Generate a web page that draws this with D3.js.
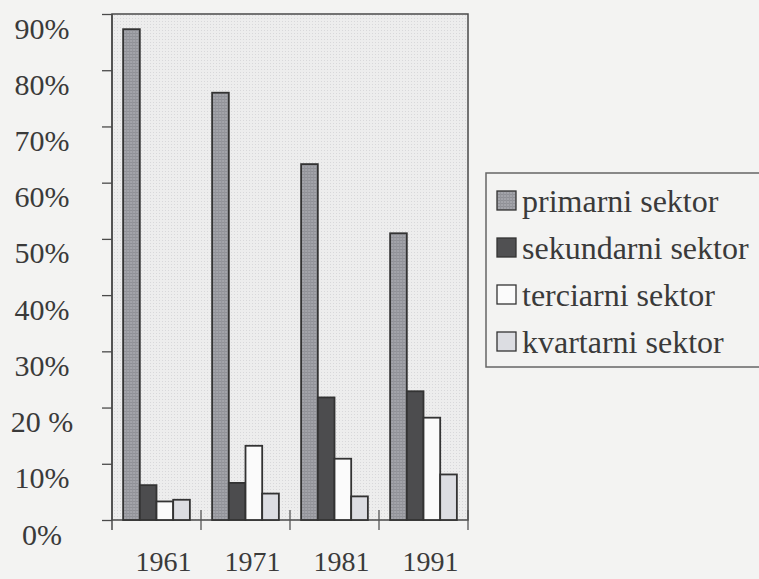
<!DOCTYPE html>
<html>
<head>
<meta charset="utf-8">
<script src="https://cdn.jsdelivr.net/npm/d3@7"></script>
<style>
  body { margin: 0; background: #f3f3f2; }
  svg { display: block; }
  text { font-family: "Liberation Serif", serif; fill: #3a3a3a; }
</style>
</head>
<body>
<div id="chart"></div>
<script>
// values (percent of workforce)
var years = ["1961", "1971", "1981", "1991"];
var sectors = ["primarni sektor", "sekundarni sektor", "terciarni sektor", "kvartarni sektor"];
var primarni   = [87.3, 76.0, 63.3, 51.0];
var sekundarni = [6.2, 6.6, 21.8, 22.9];
var terciarni  = [3.3, 13.2, 10.9, 18.2];
var kvartarni  = [3.6, 4.7, 4.2, 8.1];
var yTicks = [0, 10, 20, 30, 40, 50, 60, 70, 80, 90];
var yTickLabels = ["0%", "10%", "20 %", "30%", "40%", "50%", "60%", "70%", "80%", "90%"];

var series = [primarni, sekundarni, terciarni, kvartarni];
var fills = ["url(#patPrim)", "#4c4c4e", "#fbfbfb", "#dcdde2"];
var legendFills = ["url(#patPrim)", "#505052", "#fbfbfb", "#dcdde2"];

var W = 759, H = 579;
var svg = d3.select("#chart").append("svg").attr("width", W).attr("height", H);

// textures for the scanned look
var defs = svg.append("defs");
var pb = defs.append("pattern").attr("id", "patBg").attr("width", 3).attr("height", 3)
  .attr("patternUnits", "userSpaceOnUse");
pb.append("rect").attr("width", 3).attr("height", 3).attr("fill", "#ededed");
pb.append("rect").attr("width", 1).attr("height", 1).attr("fill", "#d8d8da");
var pp = defs.append("pattern").attr("id", "patPrim").attr("width", 3).attr("height", 3)
  .attr("patternUnits", "userSpaceOnUse");
pp.append("rect").attr("width", 3).attr("height", 3).attr("fill", "#a3a4aa");
pp.append("rect").attr("width", 3).attr("height", 1).attr("fill", "#8f9096");
pp.append("rect").attr("width", 1).attr("height", 3).attr("fill", "#94959b");

var pLeft = 112, pRight = 468, pTop = 14, pBase = 520;

var x = d3.scaleBand().domain(years).range([pLeft, pRight])
  .paddingInner(0.25).paddingOuter(0.125);
var xs = d3.scaleBand().domain(d3.range(sectors.length)).range([0, x.bandwidth()]);
var y = d3.scaleLinear().domain([0, 90]).range([pBase, pTop]);

// plot area
svg.append("rect")
  .attr("x", pLeft).attr("y", pTop)
  .attr("width", pRight - pLeft).attr("height", pBase - pTop)
  .attr("fill", "url(#patBg)")
  .attr("stroke", "#4a4a4a").attr("stroke-width", 1.5);

// y axis
var yAxis = svg.append("g")
  .attr("transform", "translate(" + pLeft + ",0)")
  .call(d3.axisLeft(y).tickValues(yTicks).tickSize(10)
    .tickFormat(function(d, i) { return yTickLabels[i]; }))
  .attr("font-family", "Liberation Serif")
  .attr("font-size", 30);
yAxis.select(".domain").remove();
yAxis.selectAll(".tick line").attr("stroke", "#4a4a4a").attr("stroke-width", 1.3);
yAxis.selectAll(".tick text")
  .attr("x", -70).attr("dy", 24)
  .attr("text-anchor", "middle")
  .attr("fill", "#3a3a3a");
svg.append("line")
  .attr("x1", pLeft).attr("x2", pLeft).attr("y1", pTop).attr("y2", pBase + 10)
  .attr("stroke", "#4a4a4a").attr("stroke-width", 1.5);

// category separators on the x axis
var step = x.step();
var bounds = years.map(function(d) { return x(d) - step * x.paddingInner() / 2; }).concat([pRight]);
svg.selectAll(".xtick").data(bounds.slice(1)).enter().append("line")
  .attr("x1", function(d) { return d; }).attr("x2", function(d) { return d; })
  .attr("y1", pBase - 10).attr("y2", pBase + 10)
  .attr("stroke", "#555").attr("stroke-width", 1.3);

// bars
var groups = svg.selectAll(".grp").data(years).enter().append("g")
  .attr("transform", function(d) { return "translate(" + x(d) + ",0)"; });
groups.selectAll("rect")
  .data(function(d, i) { return series.map(function(s, k) { return {k: k, v: s[i]}; }); })
  .enter().append("rect")
  .attr("x", function(d) { return xs(d.k); })
  .attr("width", xs.bandwidth())
  .attr("y", function(d) { return y(d.v); })
  .attr("height", function(d) { return pBase - y(d.v); })
  .attr("fill", function(d) { return fills[d.k]; })
  .attr("stroke", "#333").attr("stroke-width", 1.8);

// year labels
svg.selectAll(".year").data(years).enter().append("text")
  .attr("x", function(d) { return x(d) + x.bandwidth() / 2 + 7; })
  .attr("y", 571)
  .attr("text-anchor", "middle")
  .style("font-size", "28px")
  .text(function(d) { return d; });

// legend
var lg = svg.append("g");
lg.append("rect")
  .attr("x", 486).attr("y", 173).attr("width", 300).attr("height", 194)
  .attr("fill", "none").attr("stroke", "#666").attr("stroke-width", 1.5);
var items = lg.selectAll(".item").data(sectors).enter().append("g")
  .attr("transform", function(d, i) { return "translate(497," + (191 + i * 47) + ")"; });
items.append("rect")
  .attr("width", 19).attr("height", 19)
  .attr("fill", function(d, i) { return legendFills[i]; })
  .attr("stroke", "#333").attr("stroke-width", 1.3);
items.append("text")
  .attr("x", 25).attr("y", 21)
  .style("font-size", "32px")
  .text(function(d) { return d; });
</script>
</body>
</html>
